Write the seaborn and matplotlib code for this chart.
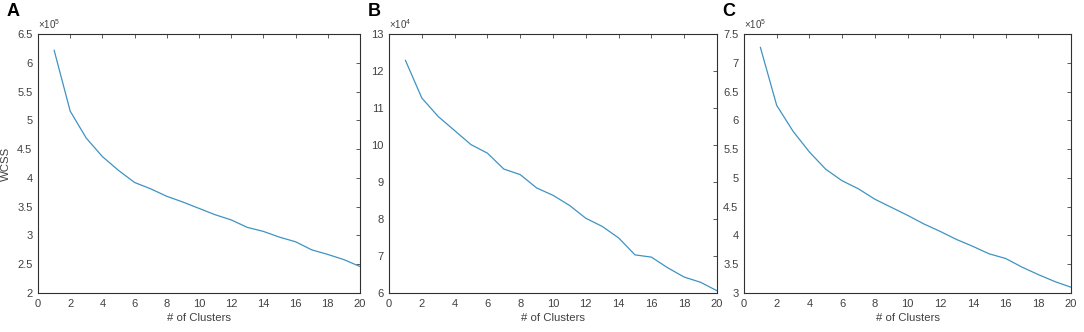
"""Courbes du coude (WCSS selon le nombre de clusters) - trois jeux de données"""

import numpy as np
import pandas as pd
import matplotlib
matplotlib.use("Agg")
import matplotlib.pyplot as plt
from matplotlib.ticker import FuncFormatter, MultipleLocator
import seaborn as sns

# Données
n_clusters = list(range(1, 21))

# Panneau A (x 10^5)
wcss_a = [6.22, 5.16, 4.69, 4.37, 4.13, 3.92, 3.81, 3.68, 3.58, 3.47,
          3.36, 3.27, 3.14, 3.07, 2.97, 2.89, 2.75, 2.67, 2.58, 2.46]
# Panneau B (x 10^4)
wcss_b = [12.29, 11.27, 10.77, 10.39, 10.01, 9.78, 9.35, 9.20, 8.84, 8.64,
          8.37, 8.02, 7.80, 7.49, 7.03, 6.97, 6.68, 6.43, 6.29, 6.06]
# Panneau C (x 10^5)
wcss_c = [7.27, 6.26, 5.81, 5.45, 5.15, 4.95, 4.81, 4.63, 4.49, 4.35,
          4.20, 4.07, 3.93, 3.81, 3.68, 3.60, 3.45, 3.32, 3.20, 3.10]

panel_letters = ["A", "B", "C"]
exponents = [5, 4, 5]
y_limits = [(2, 6.5), (6, 13), (3, 7.5)]
y_steps = [0.5, 1, 0.5]

sns.set_style("white")
plt.rcParams['font.family'] = ['Liberation Sans', 'DejaVu Sans']
plt.rcParams['mathtext.fontset'] = 'custom'
plt.rcParams['mathtext.rm'] = 'Liberation Sans'

text_col = "#404040"
line_col = "#3f93c2"

W, H = 1084, 332
fig = plt.figure(figsize=(W / 100, H / 100), dpi=100)
positions = [
    [38 / W, 1 - 293 / H, 322 / W, 259 / H],
    [389 / W, 1 - 293 / H, 328 / W, 259 / H],
    [744 / W, 1 - 293 / H, 327 / W, 259 / H],
]
letter_x = [7, 368, 722]

for i, values in enumerate([wcss_a, wcss_b, wcss_c]):
    ax = fig.add_axes(positions[i])
    df = pd.DataFrame({"k": n_clusters, "wcss": values})
    sns.lineplot(data=df, x="k", y="wcss", ax=ax, color=line_col, linewidth=0.9)

    ax.set_xlim(0, 20)
    ax.set_ylim(*y_limits[i])
    ax.xaxis.set_major_locator(MultipleLocator(2))
    ax.yaxis.set_major_locator(MultipleLocator(y_steps[i]))
    ax.yaxis.set_major_formatter(FuncFormatter(lambda v, p: f"{v:g}"))
    ax.tick_params(direction="in", top=True, right=True, length=3, width=0.6,
                   labelsize=8, colors=text_col, labelcolor=text_col, pad=4)
    for sp in ax.spines.values():
        sp.set_color("#303030")
        sp.set_linewidth(0.8)

    ax.set_xlabel("# of Clusters", fontsize=8.2, color=text_col, labelpad=3)
    if i == 0:
        ax.set_ylabel("WCSS", fontsize=8.2, color=text_col)
        ax.yaxis.set_label_coords(-0.085, 0.5)
    else:
        ax.set_ylabel("")

    ax.text(0.0, 1.01, r"$\times10^{%d}$" % exponents[i], transform=ax.transAxes,
            fontsize=7, color=text_col, ha="left", va="bottom")
    fig.text(letter_x[i] / W, 1 - 3 / H, panel_letters[i], fontsize=13,
             fontweight="bold", color="black", ha="left", va="top")

plt.savefig("out.png", dpi=100)
